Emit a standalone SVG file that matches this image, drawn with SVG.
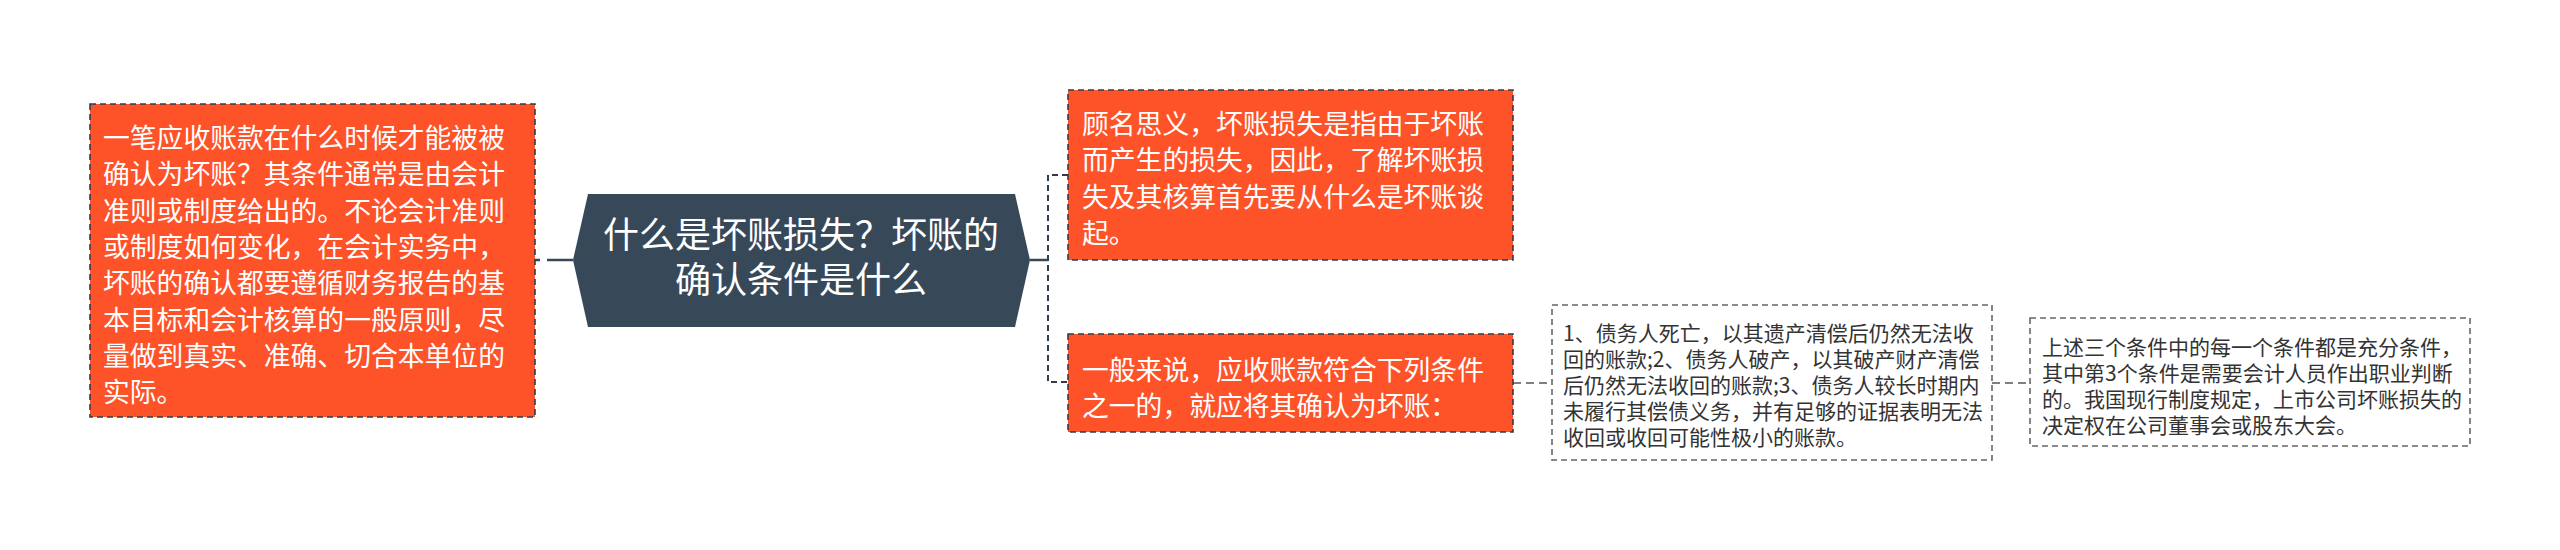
<svg xmlns="http://www.w3.org/2000/svg" width="2560" height="550" viewBox="0 0 2560 550">
<style>
.red{fill:#FE5229;stroke:#2f3d4c;stroke-width:1.6;stroke-dasharray:6 4}
.white{fill:#fff;stroke:#666;stroke-width:1.6;stroke-dasharray:6 4}
.tw{font-family:"Noto Sans CJK SC","Noto Sans",sans-serif;font-size:26.8px;fill:#fff}
.tc{font-family:"Noto Sans CJK SC","Noto Sans",sans-serif;font-size:36px;fill:#fff;text-anchor:middle}
.tg{font-family:"Noto Sans CJK SC","Noto Sans",sans-serif;font-size:21px;fill:#333}
.cd{fill:none;stroke:#2f3d4c;stroke-width:2;stroke-dasharray:6 4}
.cg{fill:none;stroke:#555;stroke-width:1.6;stroke-dasharray:8 5}
</style>
<rect width="2560" height="550" fill="#fff"/>
<g id="connectors">
<path d="M535,260 H573" fill="none" stroke="#374959" stroke-width="2.5" stroke-dasharray="5 7 40"/>
<path d="M1030,260 H1048" fill="none" stroke="#374959" stroke-width="2.5"/>
<path class="cd" d="M1068,175 H1048 V382 H1068"/>
<path class="cg" d="M1513,383 H1552"/>
<path class="cg" d="M1992,383 H2030"/>
</g>
<g id="node-left">
<rect class="red" x="90" y="104" width="445" height="313"/>
<text class="tw" x="103" y="148">一笔应收账款在什么时候才能被被</text>
<text class="tw" x="103" y="184.3">确认为坏账？其条件通常是由会计</text>
<text class="tw" x="103" y="220.6">准则或制度给出的。不论会计准则</text>
<text class="tw" x="103" y="256.9">或制度如何变化，在会计实务中，</text>
<text class="tw" x="103" y="293.2">坏账的确认都要遵循财务报告的基</text>
<text class="tw" x="103" y="329.5">本目标和会计核算的一般原则，尽</text>
<text class="tw" x="103" y="365.8">量做到真实、准确、切合本单位的</text>
<text class="tw" x="103" y="402.1">实际。</text>
</g>
<g id="node-center">
<polygon points="573,260 588,194 1015,194 1030,260 1015,327 588,327" fill="#374959"/>
<text class="tc" x="801" y="248">什么是坏账损失？坏账的</text>
<text class="tc" x="801" y="293">确认条件是什么</text>
</g>
<g id="node-top-right">
<rect class="red" x="1068" y="90" width="445" height="170"/>
<text class="tw" x="1082" y="134">顾名思义，坏账损失是指由于坏账</text>
<text class="tw" x="1082" y="170.3">而产生的损失，因此，了解坏账损</text>
<text class="tw" x="1082" y="206.6">失及其核算首先要从什么是坏账谈</text>
<text class="tw" x="1082" y="242.9">起。</text>
</g>
<g id="node-bottom-right">
<rect class="red" x="1068" y="334" width="445" height="98"/>
<text class="tw" x="1082" y="380">一般来说，应收账款符合下列条件</text>
<text class="tw" x="1082" y="416.3">之一的，就应将其确认为坏账：</text>
</g>
<g id="node-conditions">
<rect class="white" x="1552" y="305" width="440" height="155"/>
<text class="tg" x="1563" y="341">1、债务人死亡，以其遗产清偿后仍然无法收</text>
<text class="tg" x="1563" y="367">回的账款;2、债务人破产，以其破产财产清偿</text>
<text class="tg" x="1563" y="393">后仍然无法收回的账款;3、债务人较长时期内</text>
<text class="tg" x="1563" y="419">未履行其偿债义务，并有足够的证据表明无法</text>
<text class="tg" x="1563" y="445">收回或收回可能性极小的账款。</text>
</g>
<g id="node-note">
<rect class="white" x="2030" y="318" width="440" height="128"/>
<text class="tg" x="2042" y="355">上述三个条件中的每一个条件都是充分条件，</text>
<text class="tg" x="2042" y="381">其中第3个条件是需要会计人员作出职业判断</text>
<text class="tg" x="2042" y="407">的。我国现行制度规定，上市公司坏账损失的</text>
<text class="tg" x="2042" y="433">决定权在公司董事会或股东大会。</text>
</g>
</svg>
